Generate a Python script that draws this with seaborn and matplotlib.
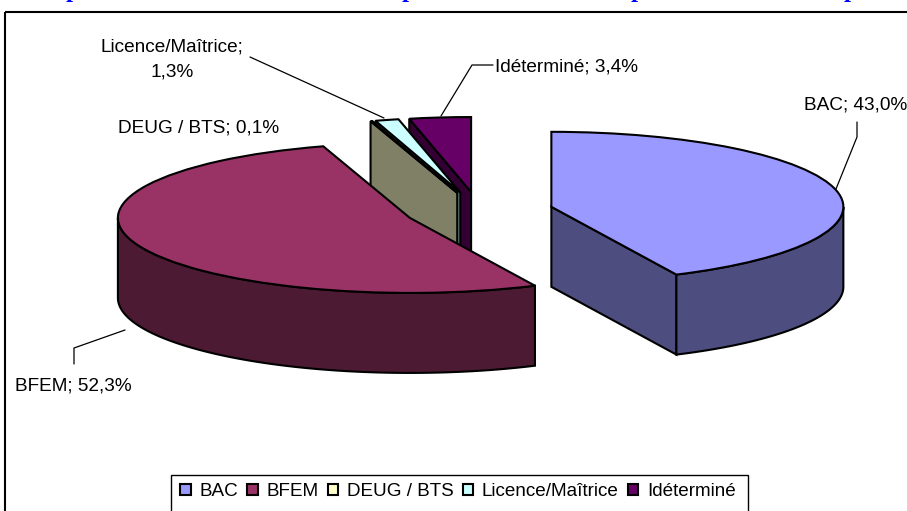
import numpy as np
import matplotlib
matplotlib.use("Agg")
import matplotlib.pyplot as plt
from matplotlib.patches import Patch, Polygon, Rectangle
from matplotlib.colors import to_rgb
import seaborn as sns

sns.set_theme(style="white")
plt.rcParams['font.family'] = ['Liberation Sans', 'DejaVu Sans']

# Data
categories = ["BAC", "BFEM", "DEUG / BTS", "Licence/Maîtrice", "Idéterminé"]
values = [43.0, 52.3, 0.1, 1.3, 3.4]
value_labels = ["43,0%", "52,3%", "0,1%", "1,3%", "3,4%"]

# Style
colors = ["#9999FF", "#993366", "#FFFFCC", "#CCFFFF", "#660066"]
explode = [0.254] * 5
W, H = 907, 511
RX, RY = 292.0, 75.0      # pixels per data unit (flattened pie)
CX, CY = 479.0, 211.0     # pie centre in pixels
DEPTH = 80 / RY
FS = 13.7
LEG_FS = 13.6
EDGE = "black"
LW = 1.5


def X(px):
    return px / RX


def Y(py):
    return -py / RY


fig = plt.figure(figsize=(W / 100, H / 100), dpi=100, facecolor="white")
ax = fig.add_axes([0, 0, 1, 1])
wedges, _ = ax.pie(values, explode=explode, colors=colors, startangle=90,
                   counterclock=False, radius=1, center=(X(CX), Y(CY)),
                   wedgeprops=dict(edgecolor=EDGE, linewidth=LW))
ax.set_aspect("auto")
ax.set_xlim(0, W / RX)
ax.set_ylim(Y(H), 0)
ax.axis("off")

# Order: back slices first, front slices last
paint_order = [4, 3, 2, 0, 1]
for rank, i in enumerate(paint_order):
    w = wedges[i]
    cx, cy = w.center
    dark = tuple(0.5 * c for c in to_rgb(colors[i]))
    t1, t2 = w.theta1, w.theta2
    base = 10 + 3 * rank
    # radial face whose outward normal points towards the viewer
    for th, normal in ((t1, t1 - 90), (t2, t2 + 90)):
        if np.sin(np.radians(normal)) < -1e-6:
            ex, ey = cx + np.cos(np.radians(th)), cy + np.sin(np.radians(th))
            ax.add_patch(Polygon([(cx, cy), (ex, ey), (ex, ey - DEPTH), (cx, cy - DEPTH)],
                                 closed=True, facecolor=dark, edgecolor=EDGE,
                                 linewidth=LW, zorder=base))
    # outer curved wall: the part of the rim in the lower half of the ellipse
    theta = np.linspace(t1, t2, 200)
    visible = np.sin(np.radians(theta)) < 0
    if visible.any():
        th = np.radians(theta[visible])
        rx, ry = cx + np.cos(th), cy + np.sin(th)
        pts = np.r_[np.c_[rx, ry], np.c_[rx, ry - DEPTH][::-1]]
        ax.add_patch(Polygon(pts, closed=True, facecolor=dark, edgecolor=EDGE,
                             linewidth=LW, zorder=base + 1))
    w.set_zorder(base + 2)

# Chart frame (runs past the right and bottom edges)
ax.add_patch(Rectangle((X(5), Y(12)), (W + 20) / RX, -(H + 20) / RY, fill=False,
                       edgecolor="black", linewidth=LW, zorder=1, clip_on=False))

# Data labels
TXT = dict(color="black", fontsize=FS, zorder=40)
ax.text(X(804), Y(104.5), f"{categories[0]}; {value_labels[0]}", ha="left", va="center", **TXT)
ax.text(X(15), Y(386), f"{categories[1]}; {value_labels[1]}", ha="left", va="center", **TXT)
ax.text(X(118), Y(128), f"{categories[2]}; {value_labels[2]}", ha="left", va="center", **TXT)
ax.text(X(172), Y(47), f"{categories[3]};", ha="center", va="center", **TXT)
ax.text(X(172), Y(72), value_labels[3], ha="center", va="center", **TXT)
ax.text(X(495), Y(66.5), f"{categories[4]}; {value_labels[4]}", ha="left", va="center", **TXT)

# Leader lines
leaders = [
    [(857, 122), (857, 137), (836, 189)],
    [(74, 364), (74, 348), (125, 330)],
    [(250, 57), (384, 118)],
    [(493, 65), (472, 65), (441, 116)],
]
for pts in leaders:
    px = np.array(pts, float)
    ax.plot(X(px[:, 0]), Y(px[:, 1]), color="black", lw=0.9, zorder=30)

# Title: only the descenders show above the frame
for x0 in (73, 409, 638, 851):
    ax.text(X(x0), Y(-3), "p", color="#0000FF", fontsize=18, fontweight="bold",
            family="Liberation Serif", ha="center", va="baseline", clip_on=False)

# Legend
ax.add_patch(Rectangle((X(171), Y(475)), 577 / RX, -60 / RY, facecolor="white",
                       edgecolor="black", linewidth=1.0, zorder=35))
handles = [Patch(facecolor=c, edgecolor="black", linewidth=LW) for c in colors]
ax.legend(handles, categories, loc="center", ncol=5, frameon=False,
          bbox_to_anchor=(458 / W, 1 - 491.5 / H), bbox_transform=fig.transFigure,
          fontsize=LEG_FS, handlelength=0.55, handleheight=0.55, handletextpad=0.45,
          columnspacing=0.5, borderpad=0, labelcolor="black").set_zorder(36)

fig.savefig("out.png", dpi=100, facecolor="white")
